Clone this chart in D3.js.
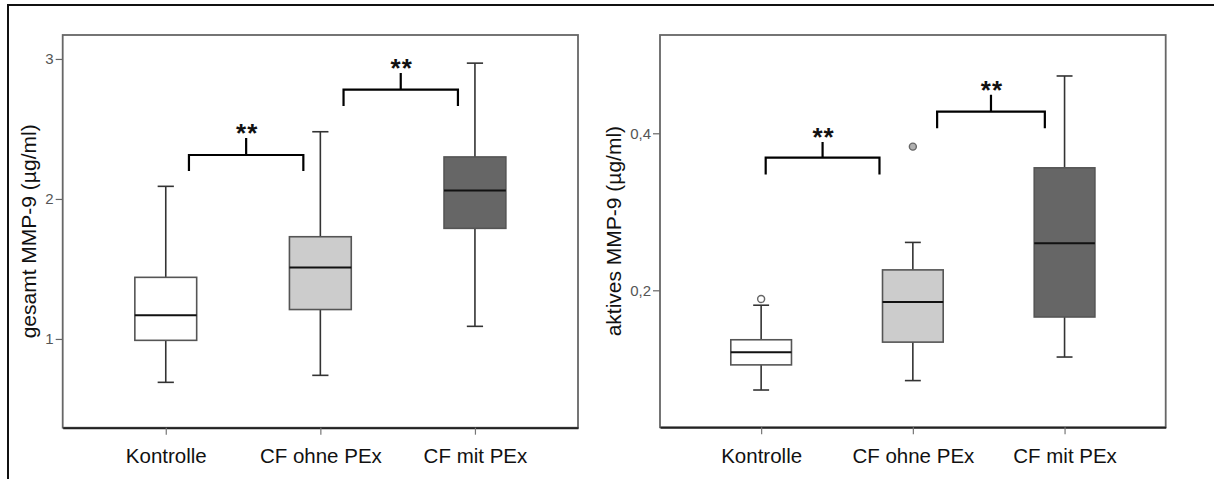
<!DOCTYPE html>
<html>
<head>
<meta charset="utf-8">
<script src="https://cdn.jsdelivr.net/npm/d3@7"></script>
<style>
  html, body { margin: 0; padding: 0; background: #fff; }
  svg { display: block; font-family: "Liberation Sans", Arial, sans-serif; }
</style>
</head>
<body>
<svg id="chart" width="1214" height="479"></svg>
<script>
// Gruppen
const categories = ["Kontrolle", "CF ohne PEx", "CF mit PEx"];

// gesamt MMP-9 (µg/ml)
const totalWhiskerLow  = [0.69, 0.74, 1.09];
const totalQ1          = [0.99, 1.21, 1.79];
const totalMedian      = [1.17, 1.51, 2.06];
const totalQ3          = [1.44, 1.73, 2.30];
const totalWhiskerHigh = [2.09, 2.48, 2.97];
const totalOutliers    = [[], [], []];
const totalTicks       = [1, 2, 3];
// Signifikanz-Klammern: von/bis (Gruppenposition), Höhe, Schenkel, Steg
const totalBrackets = [
  { from: 0.15, to: 0.89, y: 2.314, leg: 2.20, stem: 2.436, label: "**" },
  { from: 1.15, to: 1.89, y: 2.781, leg: 2.664, stem: 2.90, label: "**" }
];

// aktives MMP-9 (µg/ml)
const activeWhiskerLow  = [0.073, 0.085, 0.115];
const activeQ1          = [0.105, 0.134, 0.166];
const activeMedian      = [0.121, 0.185, 0.260];
const activeQ3          = [0.137, 0.226, 0.356];
const activeWhiskerHigh = [0.181, 0.261, 0.473];
const activeOutliers    = [[0.189], [0.383], []];
const activeTicks       = [0.2, 0.4];
const activeBrackets = [
  { from: 0.03, to: 0.78, y: 0.369, leg: 0.3475, stem: 0.389, label: "**" },
  { from: 1.16, to: 1.87, y: 0.4275, leg: 0.4064, stem: 0.449, label: "**" }
];

// Darstellung
const groupFills = ["#ffffff", "#cccccc", "#666666"];
const de = d3.formatLocale({ decimal: ",", thousands: ".", grouping: [3], currency: ["", " €"] });

const svg = d3.select("#chart");

// äußerer Rahmen
svg.append("rect")
  .attr("x", 8).attr("y", 5).attr("width", 1230).attr("height", 500)
  .attr("fill", "none").attr("stroke", "#111").attr("stroke-width", 2);

const panels = [
  {
    title: "gesamt MMP-9 (µg/ml)",
    low: totalWhiskerLow, q1: totalQ1, med: totalMedian, q3: totalQ3, high: totalWhiskerHigh,
    outliers: totalOutliers, ticks: totalTicks, brackets: totalBrackets,
    domain: [0.366, 3.171], fmt: d3.format("d"),
    left: 62.7, right: 578, top: 35, bottom: 427.7, titleX: 36
  },
  {
    title: "aktives MMP-9 (µg/ml)",
    low: activeWhiskerLow, q1: activeQ1, med: activeMedian, q3: activeQ3, high: activeWhiskerHigh,
    outliers: activeOutliers, ticks: activeTicks, brackets: activeBrackets,
    domain: [0.0255, 0.5252], fmt: de.format(".1f"),
    left: 660, right: 1165.7, top: 35, bottom: 427.3, titleX: 621
  }
];

panels.forEach(p => {
  const g = svg.append("g");
  const x = d3.scalePoint().domain(categories).range([p.left, p.right]).padding(2 / 3);
  const y = d3.scaleLinear().domain(p.domain).range([p.bottom, p.top]);
  const step = x.step();
  const boxW = step * 0.4;
  const capW = step * 0.105;
  const xAt = pos => x(categories[0]) + pos * step;

  // Plotrahmen
  g.append("rect")
    .attr("x", p.left).attr("y", p.top)
    .attr("width", p.right - p.left).attr("height", p.bottom - p.top)
    .attr("fill", "none").attr("stroke", "#666").attr("stroke-width", 1.8);

  // y-Achse
  const yAxis = g.append("g")
    .attr("transform", `translate(${p.left},0)`)
    .call(d3.axisLeft(y).tickValues(p.ticks).tickFormat(p.fmt).tickSize(7).tickPadding(2));
  yAxis.select(".domain").remove();
  yAxis.selectAll(".tick line").attr("stroke", "#666").attr("stroke-width", 1.2);
  yAxis.selectAll(".tick text")
    .attr("fill", "#555").style("font-size", "15px")
    .style("font-family", "'Liberation Sans', Arial, sans-serif");

  // x-Achse
  const xAxis = g.append("g")
    .attr("transform", `translate(0,${p.bottom})`)
    .call(d3.axisBottom(x).tickSize(7).tickPadding(13).tickSizeOuter(0));
  xAxis.select(".domain").attr("stroke", "#222").attr("stroke-width", 2);
  xAxis.selectAll(".tick line").attr("stroke", "#777").attr("stroke-width", 1.2);
  xAxis.selectAll(".tick text")
    .attr("fill", "#111").attr("dy", null).attr("y", 35.5)
    .style("font-size", "20.5px")
    .style("font-family", "'Liberation Sans', Arial, sans-serif");

  // Achsentitel
  g.append("text")
    .attr("transform", `translate(${p.titleX},${(p.top + p.bottom) / 2}) rotate(-90)`)
    .attr("text-anchor", "middle")
    .attr("fill", "#111")
    .style("font-size", "21px")
    .text(p.title);

  // Boxplots
  categories.forEach((c, i) => {
    const cx = x(c);
    const bg = g.append("g");
    // Whisker
    bg.append("line")
      .attr("x1", cx).attr("x2", cx).attr("y1", y(p.high[i])).attr("y2", y(p.q3[i]))
      .attr("stroke", "#333").attr("stroke-width", 1.6);
    bg.append("line")
      .attr("x1", cx).attr("x2", cx).attr("y1", y(p.q1[i])).attr("y2", y(p.low[i]))
      .attr("stroke", "#333").attr("stroke-width", 1.6);
    [p.high[i], p.low[i]].forEach(v => {
      bg.append("line")
        .attr("x1", cx - capW / 2).attr("x2", cx + capW / 2)
        .attr("y1", y(v)).attr("y2", y(v))
        .attr("stroke", "#333").attr("stroke-width", 1.6);
    });
    // Box
    bg.append("rect")
      .attr("x", cx - boxW / 2).attr("width", boxW)
      .attr("y", y(p.q3[i])).attr("height", y(p.q1[i]) - y(p.q3[i]))
      .attr("fill", groupFills[i]).attr("stroke", "#555").attr("stroke-width", 1.6);
    // Median
    bg.append("line")
      .attr("x1", cx - boxW / 2).attr("x2", cx + boxW / 2)
      .attr("y1", y(p.med[i])).attr("y2", y(p.med[i]))
      .attr("stroke", "#111").attr("stroke-width", 2);
    // Ausreißer
    p.outliers[i].forEach(v => {
      bg.append("circle")
        .attr("cx", cx).attr("cy", y(v)).attr("r", 3.5)
        .attr("fill", i === 0 ? "#fff" : "#b0b0b0")
        .attr("stroke", "#666").attr("stroke-width", 1.4);
    });
  });

  // Signifikanz-Klammern
  p.brackets.forEach(b => {
    const x1 = xAt(b.from), x2 = xAt(b.to), xm = (x1 + x2) / 2;
    const path = d3.path();
    path.moveTo(x1, y(b.leg));
    path.lineTo(x1, y(b.y));
    path.lineTo(x2, y(b.y));
    path.lineTo(x2, y(b.leg));
    path.moveTo(xm, y(b.y));
    path.lineTo(xm, y(b.stem));
    g.append("path")
      .attr("d", path.toString())
      .attr("fill", "none").attr("stroke", "#000").attr("stroke-width", 2.2);
    g.append("text")
      .attr("x", xm + 1).attr("y", y(b.stem) + 4)
      .attr("text-anchor", "middle")
      .attr("fill", "#111")
      .style("font-size", "26px")
      .style("font-weight", "bold")
      .style("letter-spacing", "1px")
      .text(b.label);
  });
});
</script>
</body>
</html>
